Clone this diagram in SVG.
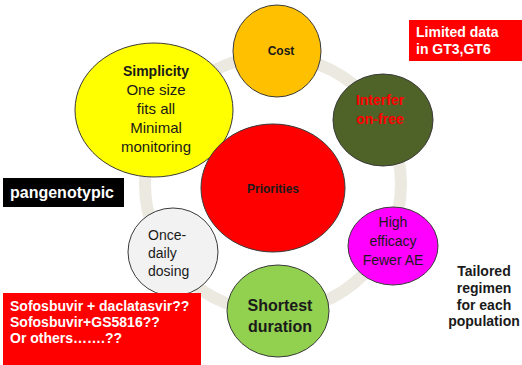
<svg xmlns="http://www.w3.org/2000/svg" width="522" height="365" viewBox="0 0 522 365">
<style>
.n{stroke:#3a3a3a;stroke-width:1}
.t{font-family:"Liberation Sans",Arial,sans-serif;text-anchor:middle;fill:#1a1a1a}
.b{font-weight:bold}
.w{font-family:"Liberation Sans",Arial,sans-serif;font-weight:bold;fill:#fff}
</style>
<rect width="522" height="365" fill="#fff"/>
<g id="connectors">
<circle cx="273" cy="184" r="128" fill="none" stroke="#ebe9e0" stroke-width="12"/>
</g>
<g id="cost">
<ellipse class="n" cx="277" cy="51" rx="44" ry="46" fill="#FFC000"/>
<text class="t b" x="281" y="55" font-size="12">Cost</text>
</g>
<g id="simplicity">
<ellipse class="n" cx="154" cy="110" rx="79" ry="67" fill="#FFFF00"/>
<text class="t" font-size="15" x="156"><tspan class="b" font-size="14" x="156" y="76">Simplicity</tspan><tspan x="156" y="95">One size</tspan><tspan x="156" y="114">fits all</tspan><tspan x="156" y="133">Minimal</tspan><tspan x="156" y="152">monitoring</tspan></text>
</g>
<g id="interferon-free">
<ellipse class="n" cx="383" cy="120" rx="50" ry="46" fill="#4F6228"/>
<text class="t b" font-size="14" style="fill:#ff0000"><tspan x="380" y="105">Interfer</tspan><tspan x="380" y="124">on-free</tspan></text>
</g>
<g id="priorities">
<ellipse class="n" cx="273" cy="188" rx="72" ry="64" fill="#FF0000"/>
<text class="t b" x="273" y="193" font-size="12">Priorities</text>
</g>
<g id="high-efficacy">
<ellipse class="n" cx="393" cy="246" rx="45" ry="39" fill="#FF00FF"/>
<text class="t" font-size="14"><tspan x="393" y="227">High</tspan><tspan x="393" y="246">efficacy</tspan><tspan x="393" y="265">Fewer AE</tspan></text>
</g>
<g id="once-daily">
<ellipse class="n" cx="173" cy="252" rx="45" ry="44" fill="#F2F2F2"/>
<text class="t" font-size="14" style="text-anchor:start"><tspan x="148" y="240">Once-</tspan><tspan x="148" y="258">daily</tspan><tspan x="148" y="276">dosing</tspan></text>
</g>
<g id="shortest">
<ellipse class="n" cx="278" cy="311" rx="51" ry="46" fill="#92D050"/>
<text class="t b" font-size="16"><tspan x="280" y="311">Shortest</tspan><tspan x="280" y="332">duration</tspan></text>
</g>
<g id="limited-data">
<rect x="409" y="20" width="113" height="41" fill="#FF0000"/>
<text class="w" font-size="14"><tspan x="416" y="37">Limited data</tspan><tspan x="416" y="54">in GT3,GT6</tspan></text>
</g>
<g id="pangenotypic">
<rect x="3" y="178" width="121" height="29" fill="#000"/>
<text class="w" x="10" y="198" font-size="16">pangenotypic</text>
</g>
<g id="candidates">
<rect x="3" y="293" width="198" height="72" fill="#FF0000"/>
<text class="w" font-size="14"><tspan x="10" y="311">Sofosbuvir + daclatasvir??</tspan><tspan x="10" y="327">Sofosbuvir+GS5816??</tspan><tspan x="10" y="343">Or others…….??</tspan></text>
</g>
<g id="tailored">
<text class="t b" font-size="14"><tspan x="484" y="276">Tailored</tspan><tspan x="484" y="293">regimen</tspan><tspan x="484" y="310">for each</tspan><tspan x="484" y="326">population</tspan></text>
</g>
</svg>
